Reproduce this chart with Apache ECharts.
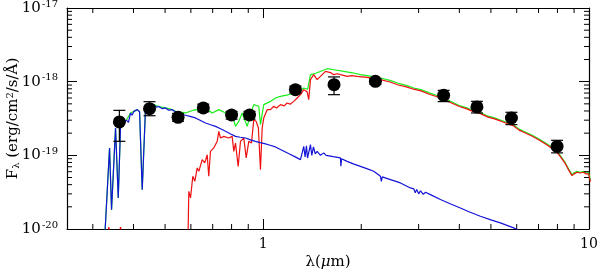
<!DOCTYPE html>
<html>
<head>
<meta charset="utf-8">
<script src="https://cdn.jsdelivr.net/npm/echarts@6/dist/echarts.min.js"></script>
<style>html,body{margin:0;padding:0;background:#fff}#c{width:600px;height:273px}</style>
</head>
<body>
<div id="c"></div>
<script>
// ---- data (wavelength in micron, F_lambda in erg/cm2/s/A) ----
const blueModel = [
  [0.318,5e-21],[0.326,7e-21],[0.3377,1.26e-19],[0.3425,1.83e-20],[0.3523,2.35e-19],[0.3591,2.64e-20],
  [0.365,2.47e-19],[0.3737,2.75e-19],[0.380,3.0e-19],[0.386,2.8e-19],[0.3917,3.76e-19],[0.396,3.5e-19],
  [0.401,3.95e-19],[0.4107,4.17e-19],[0.4175,3.9e-19],[0.4254,3.42e-20],[0.4355,4.4e-19],[0.445,4.3e-19],
  [0.452,4.6e-19],[0.4617,4.87e-19],[0.470,4.5e-19],[0.4783,4.6e-19],[0.490,4.3e-19],[0.5016,4.4e-19],
  [0.513,4.1e-19],[0.5258,4.17e-19],[0.551,3.6e-19],[0.5777,3.5e-19],[0.600,3.35e-19],[0.620,3.22e-19],
  [0.640,3.0e-19],[0.6653,2.75e-19],[0.690,2.6e-19],[0.7142,2.47e-19],[0.740,2.3e-19],[0.7665,2.12e-19],
  [0.795,1.95e-19],[0.8224,1.81e-19],[0.850,1.76e-19],[0.8824,1.72e-19],[0.915,1.62e-19],[0.947,1.55e-19],
  [0.98,1.49e-19],[1.0164,1.43e-19],[1.05,1.37e-19],[1.0907,1.30e-19],[1.13,1.2e-19],[1.20,1.05e-19],
  [1.25,9.6e-20],[1.3017,8.74e-20],[1.3322,1.325e-19],[1.345,9.5e-20],[1.358,1.35e-19],[1.368,9.2e-20],
  [1.3969,1.40e-19],[1.410,1.0e-19],[1.4268,1.3e-19],[1.445,1.05e-19],[1.4644,1.13e-19],[1.480,1.2e-19],
  [1.499,1.0e-19],[1.5344,1.08e-19],[1.560,1.0e-19],[1.640,9.6e-20],[1.7265,9.22e-20],[1.732,7.1e-20],
  [1.740,9.0e-20],[1.8102,8.29e-20],[1.90,7.6e-20],[1.988,7.09e-20],[2.08,6.6e-20],[2.1841,6.07e-20],
  [2.29,5.19e-20],[2.306,4.44e-20],[2.32,5.1e-20],[2.4584,4.68e-20],[2.6379,4.22e-20],[2.83,3.61e-20],
  [2.90,3.5e-20],[2.93,3.1e-20],[2.96,3.45e-20],[3.00,3.0e-20],[3.04,3.3e-20],[3.10,2.95e-20],[3.15,3.15e-20],
  [3.2604,2.93e-20],[3.4995,2.51e-20],[3.75,2.2e-20],[4.0298,1.93e-20],[4.30,1.7e-20],[4.6407,1.49e-20],
  [5.0,1.33e-20],[5.3445,1.21e-20],[5.8716,1.035e-20],[6.6,8e-21]
];
const redModel = [
  [0.300,3e-21],[0.333,8e-21],[0.336,1.06e-20],[0.340,8e-21],[0.360,8e-21],[0.365,1.06e-20],[0.370,8e-21],
  [0.400,4e-21],[0.550,3e-21],[0.585,6e-21],[0.5888,1.1e-20],[0.5913,3.25e-20],[0.5984,2.64e-20],
  [0.6082,5.19e-20],[0.617,4.44e-20],[0.6274,6.75e-20],[0.6346,6.07e-20],[0.6499,8.74e-20],[0.6621,7.88e-20],
  [0.6732,1.02e-19],[0.6808,5.19e-20],[0.689,1.13e-19],[0.7055,1.26e-19],[0.7226,1.55e-19],[0.7308,2.12e-19],
  [0.7396,1.72e-19],[0.7571,1.81e-19],[0.7842,1.72e-19],[0.8033,1.81e-19],[0.8125,1.13e-19],[0.8224,1.47e-19],
  [0.8381,7.09e-20],[0.8519,1.55e-19],[0.8721,1.72e-19],[0.887,9.22e-20],[0.9034,1.55e-19],[0.9207,1.47e-19],
  [0.9358,3.05e-19],[0.9517,2.89e-19],[0.9667,2.35e-19],[0.9811,6.4e-20],[0.993,2.35e-19],[1.0042,3.22e-19],
  [1.0287,4.17e-19],[1.0529,4.17e-19],[1.0778,4.64e-19],[1.1,4.4e-19],[1.13,4.88e-19],[1.16,4.7e-19],
  [1.1847,5.14e-19],[1.21,4.95e-19],[1.2413,5.40e-19],[1.2715,6.01e-19],[1.3017,6.66e-19],[1.3322,7.79e-19],
  [1.364,7.3e-19],[1.38,5.70e-19],[1.3969,1.064e-18],[1.4298,1.245e-18],[1.4644,1.064e-18],[1.499,1.18e-18],
  [1.553,1.38e-18],[1.5717,1.31e-18],[1.61,1.33e-18],[1.646,1.245e-18],[1.69,1.28e-18],[1.7265,1.245e-18],
  [1.8102,1.18e-18],[1.87,1.21e-18],[1.942,1.18e-18],[2.084,1.143e-18],[2.29,1.064e-18],[2.45,9.9e-19],
  [2.60,9.0e-19],[2.75,8.5e-19],[2.897,7.9e-19],[3.05,7.5e-19],[3.25,6.7e-19],[3.40,6.3e-19],[3.581,5.8e-19],
  [3.80,5.1e-19],[4.0,4.6e-19],[4.2,4.3e-19],[4.40,3.95e-19],[4.641,3.68e-19],[4.9,3.3e-19],[5.1,3.15e-19],
  [5.3445,2.93e-19],[5.6,2.7e-19],[5.8716,2.5e-19],[6.1,2.2e-19],[6.302,2.06e-19],[6.7,1.82e-19],
  [7.089,1.58e-19],[7.5,1.35e-19],[7.976,1.1e-19],[8.2,9.4e-20],[8.459,7.7e-20],[8.7,6.1e-20],[8.868,5.3e-20],
  [9.0,5.6e-20],[9.189,5.9e-20],[9.4,5.75e-20],[9.626,5.9e-20],[9.8,5.6e-20],[9.972,5.6e-20],[10.1,4.4e-20]
];
const greenModel = [
  [0.318,5e-21],[0.326,7e-21],[0.3377,1.26e-19],[0.3425,1.83e-20],[0.3523,2.35e-19],[0.3591,2.64e-20],
  [0.365,2.47e-19],[0.3737,2.75e-19],[0.380,3.0e-19],[0.3917,3.76e-19],[0.401,3.95e-19],[0.4107,4.17e-19],
  [0.4175,3.9e-19],[0.4254,3.42e-20],[0.4355,4.4e-19],[0.452,4.6e-19],[0.4617,4.87e-19],[0.4783,4.6e-19],
  [0.5016,4.4e-19],[0.5258,4.17e-19],[0.5383,3.95e-19],[0.5777,3.76e-19],[0.600,4.0e-19],[0.620,4.17e-19],
  [0.640,4.0e-19],[0.6653,4.40e-19],[0.6976,3.76e-19],[0.7308,4.17e-19],[0.7665,3.76e-19],[0.8033,3.57e-19],
  [0.8224,2.47e-19],[0.8417,2.89e-19],[0.8623,3.76e-19],[0.8932,2.47e-19],[0.9142,3.57e-19],[0.9358,4.88e-19],
  [0.9694,4.64e-19],[0.9811,2.61e-19],[1.0042,4.88e-19],[1.0529,5.40e-19],[1.0907,6.01e-19],[1.13,6.32e-19],
  [1.19,6.6e-19],[1.2413,7.03e-19],[1.29,7.4e-19],[1.3322,8.21e-19],[1.37,7.9e-19],[1.3969,1.245e-18],
  [1.45,1.3e-18],[1.5717,1.50e-18],[1.65,1.45e-18],[1.7673,1.38e-18],[1.88,1.32e-18],[1.988,1.245e-18],
  [2.13,1.19e-18],[2.29,1.122e-18],[2.45,1.04e-18],[2.60,9.5e-19],[2.75,8.9e-19],[2.897,8.21e-19],
  [3.05,7.8e-19],[3.25,7.0e-19],[3.40,6.55e-19],[3.581,6.01e-19],[3.80,5.3e-19],[4.0,4.75e-19],[4.2,4.45e-19],
  [4.40,4.1e-19],[4.641,3.82e-19],[4.9,3.4e-19],[5.1,3.25e-19],[5.3445,3.02e-19],[5.6,2.78e-19],
  [5.8716,2.58e-19],[6.1,2.27e-19],[6.302,2.12e-19],[6.7,1.87e-19],[7.089,1.63e-19],[7.5,1.39e-19],
  [7.976,1.133e-19],[8.2,9.7e-20],[8.459,7.88e-20],[8.7,6.3e-20],[8.868,5.47e-20],[9.0,5.8e-20],
  [9.189,6.07e-20],[9.4,5.9e-20],[9.626,6.07e-20],[9.8,5.8e-20],[9.972,5.8e-20],[10.1,4.6e-20]
];
const photX  = [0.362, 0.448, 0.548, 0.655, 0.80, 0.908, 1.256, 1.65, 2.21, 3.58, 4.53, 5.78, 7.98];
const photY  = [2.84e-19, 4.30e-19, 3.28e-19, 4.40e-19, 3.53e-19, 3.53e-19, 7.79e-19, 9.1e-19, 1.01e-18, 6.52e-19, 4.54e-19, 3.21e-19, 1.32e-19];
const photLo = [1.55e-19, 3.45e-19, 2.9e-19, 3.9e-19, 3.1e-19, 3.1e-19, 7.0e-19, 6.66e-19, 9.2e-19, 5.36e-19, 3.76e-19, 2.61e-19, 1.08e-19];
const photHi = [4.08e-19, 5.35e-19, 3.7e-19, 4.95e-19, 3.95e-19, 3.95e-19, 8.7e-19, 1.16e-18, 1.1e-18, 7.62e-19, 5.41e-19, 3.84e-19, 1.60e-19];
const xMajorLabels = [1, 10];
const xMinorTicks = [0.3,0.4,0.5,0.6,0.7,0.8,0.9,2,3,4,5,6,7,8,9];
const yMinorTicks = [2e-20,3e-20,4e-20,5e-20,6e-20,7e-20,8e-20,9e-20,
                     2e-19,3e-19,4e-19,5e-19,6e-19,7e-19,8e-19,9e-19,
                     2e-18,3e-18,4e-18,5e-18,6e-18,7e-18,8e-18,9e-18];
const X_MIN = 0.25, X_MAX = 10, Y_MIN = 1e-20, Y_MAX = 1e-17;

const FONT = 'DejaVu Serif';
const chart = echarts.init(document.getElementById('c'), null, {renderer: 'canvas'});
const isDecade = v => Math.abs(Math.log10(v) - Math.round(Math.log10(v))) < 1e-6;
const axisLineStyle = {show: true, lineStyle: {color: '#000', width: 1.2}};
const majorTick = {show: true, inside: true, length: 10, lineStyle: {color: '#000', width: 1}};

function lineSeries(data, color, z) {
  return {type: 'line', data: data, showSymbol: false, symbol: 'none', z: z,
          lineStyle: {color: color, width: 1.2}, silent: true, animation: false};
}

const option = {
  animation: false,
  backgroundColor: '#fff',
  grid: {left: 67, right: 11, top: 8, bottom: 44, containLabel: false, outerBoundsMode: 'none'},
  xAxis: [
    {type: 'log', logBase: 10, min: X_MIN, max: X_MAX, position: 'bottom',
     axisLine: axisLineStyle, axisTick: majorTick, splitLine: {show: false},
     axisLabel: {margin: 8, color: '#000', fontFamily: FONT, fontSize: 14,
       showMinLabel: false,
       formatter: v => (isDecade(v) && xMajorLabels.indexOf(Math.round(v)) >= 0) ? String(Math.round(v)) : ''},
     name: '{a|λ(}{i|μ}{a|m)}', nameLocation: 'middle', nameGap: 26, nameMoveOverlap: false,
     nameTextStyle: {fontFamily: FONT, fontSize: 15, color: '#000',
                     rich: {a: {fontFamily: FONT, fontSize: 15, color: '#000'},
                            i: {fontFamily: FONT, fontSize: 15, fontStyle: 'italic', color: '#000'}}}},
    {type: 'log', logBase: 10, min: X_MIN, max: X_MAX, position: 'top',
     axisLine: axisLineStyle, axisTick: majorTick, axisLabel: {show: false}, splitLine: {show: false}}
  ],
  yAxis: [
    {type: 'log', logBase: 10, min: Y_MIN, max: Y_MAX, position: 'left',
     axisLine: axisLineStyle, axisTick: majorTick, splitLine: {show: false},
     axisLabel: {margin: 9, color: '#000', fontFamily: FONT, fontSize: 15,
       formatter: v => '{b|10}{s|' + Math.round(Math.log10(v)) + '}',
       rich: {b: {fontFamily: FONT, fontSize: 15, color: '#000'},
              s: {fontFamily: FONT, fontSize: 10, color: '#000', padding: [0, 0, 8, 1]}}},
     name: '{a|F}{sub|λ}{a| (erg/cm}{sup|2}{a|/s/Å)}', nameLocation: 'middle', nameGap: 45, nameMoveOverlap: false,
     nameTextStyle: {fontFamily: FONT, fontSize: 15, color: '#000',
                     rich: {a: {fontFamily: FONT, fontSize: 15, color: '#000'},
                            sub: {fontFamily: FONT, fontSize: 10, color: '#000', padding: [6, 0, 0, 0]},
                            sup: {fontFamily: FONT, fontSize: 10, color: '#000', padding: [0, 0, 7, 0]}}}},
    {type: 'log', logBase: 10, min: Y_MIN, max: Y_MAX, position: 'right',
     axisLine: axisLineStyle, axisTick: majorTick, axisLabel: {show: false}, splitLine: {show: false}}
  ],
  series: [
    lineSeries(greenModel, '#18ee18', 2),
    lineSeries(redModel, '#ee1010', 3),
    lineSeries(blueModel, '#1414d8', 4),
    {type: 'custom', silent: true, z: 6, clip: false,
     data: photX.map((x, i) => [x, photLo[i], photHi[i]]),
     encode: {x: 0, y: [1, 2]},
     renderItem: (params, api) => {
       const lo = api.coord([api.value(0), api.value(1)]);
       const hi = api.coord([api.value(0), api.value(2)]);
       const w = 6, st = {stroke: '#000', lineWidth: 1.2};
       return {type: 'group', children: [
         {type: 'line', shape: {x1: lo[0], y1: lo[1], x2: hi[0], y2: hi[1]}, style: st},
         {type: 'line', shape: {x1: lo[0] - w, y1: lo[1], x2: lo[0] + w, y2: lo[1]}, style: st},
         {type: 'line', shape: {x1: hi[0] - w, y1: hi[1], x2: hi[0] + w, y2: hi[1]}, style: st}
       ]};
     }},
    {type: 'scatter', data: photX.map((x, i) => [x, photY[i]]), symbol: 'circle', symbolSize: 13,
     itemStyle: {color: '#000', opacity: 1}, z: 7, silent: true},
    {type: 'custom', silent: true, z: 8, clip: false,
     data: xMinorTicks.map(v => [v, Y_MIN]),
     renderItem: (params, api) => {
       const b = api.coord([api.value(0), Y_MIN]);
       const t = api.coord([api.value(0), Y_MAX]);
       const st = {stroke: '#000', lineWidth: 1};
       return {type: 'group', children: [
         {type: 'line', shape: {x1: b[0], y1: b[1], x2: b[0], y2: b[1] - 5}, style: st},
         {type: 'line', shape: {x1: t[0], y1: t[1], x2: t[0], y2: t[1] + 5}, style: st}
       ]};
     }},
    {type: 'custom', silent: true, z: 8, clip: false,
     data: yMinorTicks.map(v => [X_MIN, v]),
     renderItem: (params, api) => {
       const l = api.coord([X_MIN, api.value(1)]);
       const r = api.coord([X_MAX, api.value(1)]);
       const st = {stroke: '#000', lineWidth: 1};
       return {type: 'group', children: [
         {type: 'line', shape: {x1: l[0], y1: l[1], x2: l[0] + 5, y2: l[1]}, style: st},
         {type: 'line', shape: {x1: r[0], y1: r[1], x2: r[0] - 5, y2: r[1]}, style: st}
       ]};
     }}
  ]
};
chart.setOption(option);
</script>
</body>
</html>
